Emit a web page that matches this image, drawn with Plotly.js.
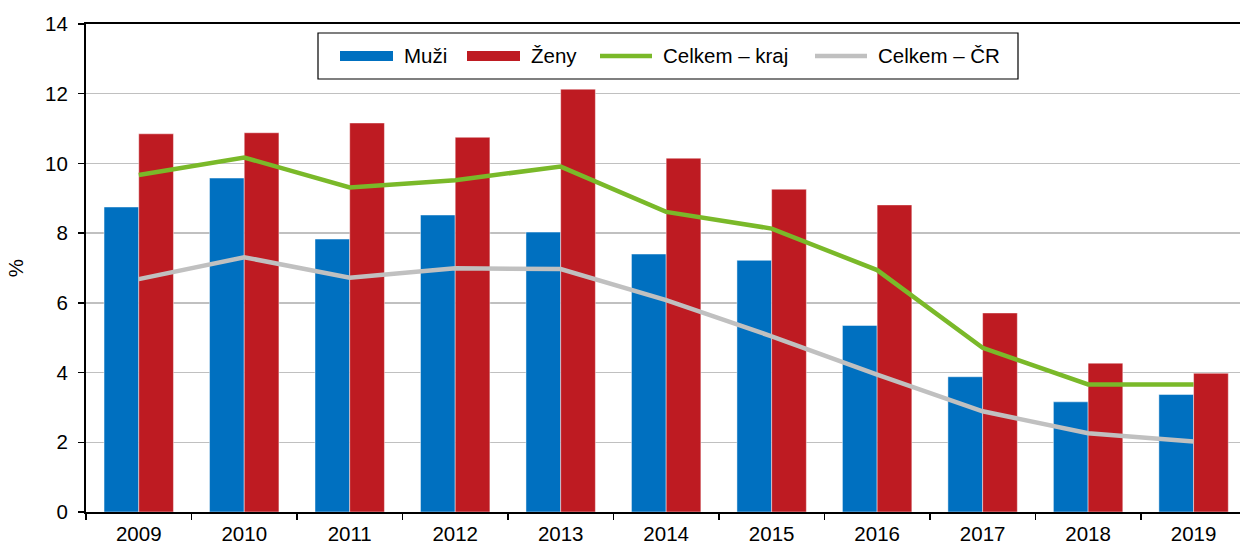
<!DOCTYPE html>
<html>
<head>
<meta charset="utf-8">
<script src="https://cdn.plot.ly/plotly-3.0.1.min.js"></script>
<style>html,body{margin:0;padding:0;background:#fff}#chart{width:1240px;height:545px}</style>
</head>
<body>
<div id="chart"></div>
<script>
const years = ["2009","2010","2011","2012","2013","2014","2015","2016","2017","2018","2019"];
const muzi = [8.75, 9.58, 7.83, 8.52, 8.03, 7.40, 7.22, 5.35, 3.88, 3.16, 3.37];
const zeny = [10.85, 10.88, 11.16, 10.75, 12.13, 10.15, 9.26, 8.81, 5.71, 4.27, 3.98];
const celkemKraj = [9.67, 10.17, 9.31, 9.52, 9.91, 8.61, 8.13, 6.94, 4.71, 3.66, 3.66];
const celkemCR = [6.68, 7.31, 6.72, 6.99, 6.97, 6.08, 5.04, 3.94, 2.89, 2.26, 2.02];
const names = ["Muži", "Ženy", "Celkem – kraj", "Celkem – ČR"];
const colors = ["#0070C0", "#BE1B22", "#7AB929", "#C0C0C0"];

const FONT = "Liberation Sans, Arial, sans-serif";
const FS = 20.5;

const traces = [
  {type:"bar", x:years, y:muzi, name:names[0], marker:{color:colors[0], line:{color:"rgba(255,255,255,0.45)", width:1}}, showlegend:false},
  {type:"bar", x:years, y:zeny, name:names[1], marker:{color:colors[1], line:{color:"rgba(255,255,255,0.45)", width:1}}, showlegend:false},
  {type:"scatter", mode:"lines", x:years, y:celkemKraj, name:names[2], line:{color:colors[2], width:4.5}, showlegend:false},
  {type:"scatter", mode:"lines", x:years, y:celkemCR, name:names[3], line:{color:colors[3], width:4.5}, showlegend:false}
];

// custom legend (pixel -> paper helpers)
const L = 86, T = 24, W = 1154, H = 488;
const px = v => (v - L) / W;
const py = v => (T + H - v) / H;
const legY = 56;
const shapes = [
  {type:"rect", xref:"paper", yref:"paper", x0:px(318), x1:px(1018), y0:py(33), y1:py(79), fillcolor:"#fff", line:{color:"#000", width:1.2}},
  {type:"rect", xref:"paper", yref:"paper", x0:px(340), x1:px(393), y0:py(legY-5), y1:py(legY+5), fillcolor:colors[0], line:{width:0}},
  {type:"rect", xref:"paper", yref:"paper", x0:px(467), x1:px(520), y0:py(legY-5), y1:py(legY+5), fillcolor:colors[1], line:{width:0}},
  {type:"line", xref:"paper", yref:"paper", x0:px(600), x1:px(652), y0:py(legY), y1:py(legY), line:{color:colors[2], width:4.5}},
  {type:"line", xref:"paper", yref:"paper", x0:px(815), x1:px(867), y0:py(legY), y1:py(legY), line:{color:colors[3], width:4.5}}
];
const legX = [402, 529, 661, 876];
const annotations = names.map((n, i) => ({
  xref:"paper", yref:"paper", x:px(legX[i]), y:py(legY), xanchor:"left", yanchor:"middle",
  text:n, showarrow:false, font:{family:FONT, size:FS, color:"#000"}
}));

const layout = {
  width:1240, height:545,
  margin:{l:L, r:0, t:T, b:545 - T - H, pad:0},
  paper_bgcolor:"#fff", plot_bgcolor:"#fff",
  barmode:"group", bargap:0.342, bargroupgap:0,
  font:{family:FONT, size:FS, color:"#000"},
  xaxis:{type:"category", range:[-0.5, 10.44], showline:true, linecolor:"#000", linewidth:2, mirror:true,
         ticks:"outside", ticklen:6, tickwidth:1.5, tickcolor:"#000", tickson:"boundaries", ticklabelstandoff:2,
         showgrid:false, zeroline:false, tickfont:{family:FONT, size:FS, color:"#000"}, fixedrange:true},
  yaxis:{range:[0,14], dtick:2, tick0:0, showline:true, linecolor:"#000", linewidth:2,
         ticks:"outside", ticklen:6, tickwidth:1.5, tickcolor:"#000", ticklabelstandoff:6,
         showgrid:true, gridcolor:"#C0C0C0", gridwidth:1.5, zeroline:false,
         tickfont:{family:FONT, size:FS, color:"#000"},
         title:{text:"%", font:{family:FONT, size:FS, color:"#000"}, standoff:16}, fixedrange:true},
  shapes:shapes, annotations:annotations, showlegend:false
};

Plotly.newPlot("chart", traces, layout, {staticPlot:true, displayModeBar:false});
</script>
</body>
</html>
